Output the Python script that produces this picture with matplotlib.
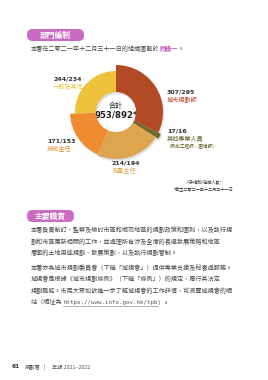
import matplotlib
matplotlib.use("Agg")
import matplotlib.pyplot as plt
from matplotlib.patches import FancyBboxPatch, Wedge

plt.rcParams['font.family'] = ['Noto Sans CJK TC', 'DejaVu Sans']

# ---- data ----
categories = ["城市規劃師", "其他專業人員", "測量主任", "技術主任", "一般及其他"]
establishment = [307, 17, 214, 171, 244]
strength = [295, 16, 194, 153, 234]
total_est = 953
total_str = 892
colors = ["#B34A26", "#6E6A2C", "#DDA54E", "#EF8B30", "#EEC23C"]
radii = [47, 50, 47, 46, 41]
label_pos = [(167, 92), (167, 131), (112, 163), (47, 141), (53, 79)]
sub_note = "（例如工程師、園境師）"

W, H = 268, 380
fig = plt.figure(figsize=(W / 100, H / 100), dpi=100)
fig.patch.set_facecolor("white")

pg = fig.add_axes([0, 0, 1, 1])
pg.set_xlim(0, W)
pg.set_ylim(H, 0)
pg.axis("off")

pink = "#C86CC3"
txt = "#474747"
body_fs = 4.4

def pill(x0, y0, w, h, label):
    p = FancyBboxPatch((x0, y0), w, h, boxstyle="round,pad=0,rounding_size=5.5",
                       fc=pink, ec="none", transform=pg.transData, zorder=2)
    pg.add_patch(p)
    pg.text(x0 + w / 2, y0 + h / 2, label, color="white", fontsize=5.6, fontweight="bold",
            ha="center", va="center", zorder=3)

pill(27, 29, 57, 12, "部門編制")
fig.canvas.draw()
r = fig.canvas.get_renderer()
inv = pg.transData.inverted()
t1 = pg.text(31, 49, "本署在二零二一年十二月三十一日的組織圖載於", fontsize=body_fs, color=txt,
             va="center", ha="left")
xend = inv.transform((t1.get_window_extent(r).x1, 0))[0]
t2 = pg.text(xend, 49, "附錄一", fontsize=body_fs, color="#C04DB2", fontweight="bold",
             va="center", ha="left")
xend2 = inv.transform((t2.get_window_extent(r).x1, 0))[0]
pg.text(xend2, 49, "。", fontsize=body_fs, color=txt, va="center", ha="left")

# ---- donut ----
cx, cy, S = 116, 112, 110
dax = fig.add_axes([(cx - S / 2) / W, 1 - (cy + S / 2) / H, S / W, S / H])
wedges, _ = dax.pie(establishment, colors=colors, startangle=90, counterclock=False,
                    radius=47, wedgeprops=dict(width=27, linewidth=0, zorder=3))
for w, rr in zip(wedges, radii):
    w.set_radius(rr)
    w.set_width(rr - 20)
    # soft drop shadow
    for k, a in ((2.5, 0.06), (1.5, 0.08)):
        sh = Wedge((k * 0.6, -k), rr, w.theta1, w.theta2, width=rr - 20,
                   fc="black", ec="none", alpha=a, zorder=1)
        dax.add_patch(sh)
dax.set_xlim(-S / 2, S / 2)
dax.set_ylim(-S / 2, S / 2)
dax.set_aspect("equal")
dax.axis("off")

pg.text(cx, 106, "合計", fontsize=5.0, color="#222222", ha="center", va="center")
pg.text(cx, 114.5, f"{total_est}/{total_str}*", fontsize=6.2, fontweight="bold",
        color="#222222", ha="center", va="center", family="DejaVu Sans")

for (x, y), cat, e, s, c in zip(label_pos, categories, establishment, strength, colors):
    pg.text(x, y, f"{e}/{s}", fontsize=4.5, fontweight="bold", color="#333333",
            ha="left", va="center", family="DejaVu Sans")
    lc = "#5E5A22" if cat == "其他專業人員" else c
    pg.text(x, y + 8, cat, fontsize=4.4, color=lc, ha="left", va="center")
pg.text(167, 146, sub_note, fontsize=3.3, color="#5E5A22", ha="left", va="center")

pg.text(204, 183, "人手編制/在職人數*", fontsize=3.0, color="#333333", ha="center", va="center")
pg.text(204, 188.5, "*截至二零二一年十二月三十一日", fontsize=3.0, color="#333333", ha="center", va="center")

# ---- section 2 ----
pill(27, 210, 47, 12, "主要職責")
lines1 = [
    "本署負責制訂、監察及檢討市區和鄉郊地區的規劃政策和圖則，以及執行規",
    "劃和市區更新相關的工作，並處理所有涉及全港的長遠發展策略和地區",
    "層面的土地用途規劃、發展策劃，以及執行規劃管制。",
]
lines2 = [
    "本署亦為城市規劃委員會（下稱「城規會」）提供專業支援及秘書處服務。",
    "城規會是根據《城市規劃條例》（下稱「條例」）的規定，履行其法定",
    "規劃職能。市民大眾如欲進一步了解城規會的工作詳情，可瀏覽城規會的網",
]
for i, ln in enumerate(lines1):
    pg.text(31, 230 + i * 11.5, ln, fontsize=body_fs, color=txt, ha="left", va="center")
for i, ln in enumerate(lines2):
    pg.text(31, 268 + i * 11.5, ln, fontsize=body_fs, color=txt, ha="left", va="center")
y4 = 268 + 3 * 11.5
ta = pg.text(31, y4, "站（網址為 ", fontsize=body_fs, color=txt, ha="left", va="center")
fig.canvas.draw()
xa = inv.transform((ta.get_window_extent(r).x1, 0))[0]
tb = pg.text(xa, y4, "https://www.info.gov.hk/tpb", fontsize=4.2, color="#555555",
             ha="left", va="center", family="DejaVu Sans Mono")
xb = inv.transform((tb.get_window_extent(r).x1, 0))[0]
pg.plot([xa, xb], [y4 + 3, y4 + 3], color="#777777", lw=0.4)
pg.text(xb, y4, "）。", fontsize=body_fs, color=txt, ha="left", va="center")

# ---- footer ----
pg.text(12, 367, "61", fontsize=4.2, fontweight="bold", color="#333333", ha="left", va="center",
        family="DejaVu Sans")
pg.text(25, 367, "規劃署", fontsize=3.8, color="#555555", ha="left", va="center")
pg.text(44, 367, "|", fontsize=4.2, color="#555555", ha="center", va="center")
pg.text(52, 367, "年報 2021–2022", fontsize=3.8, color="#555555", ha="left", va="center")

fig.savefig("out.png", dpi=100, facecolor="white")
